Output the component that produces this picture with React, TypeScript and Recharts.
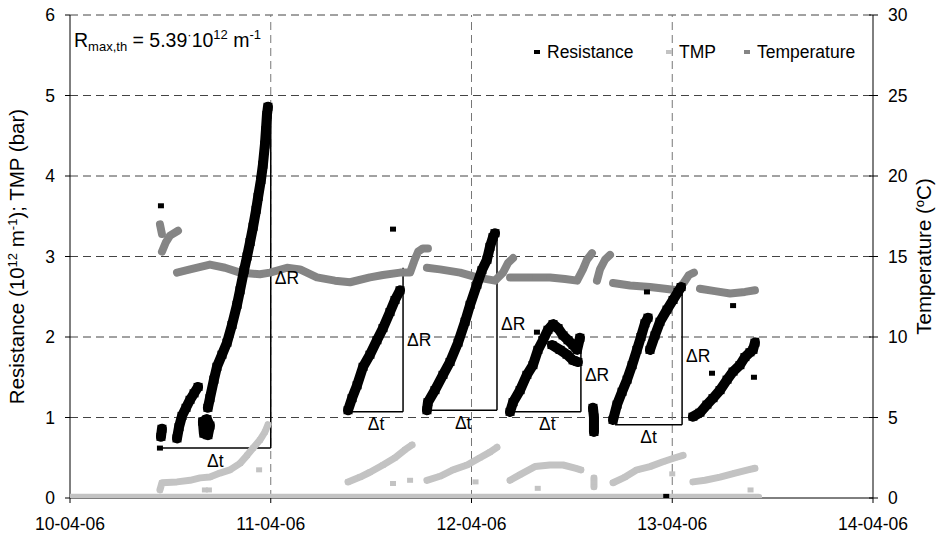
import { ComposedChart, ReferenceLine, Scatter, XAxis, YAxis } from 'recharts'

type Pt = [number, number]

// x = days since 10-04-06 00:00
const dayTicks = [0, 1, 2, 3, 4]
const dayLabels = ['10-04-06', '11-04-06', '12-04-06', '13-04-06', '14-04-06']
const resistanceTicks = [0, 1, 2, 3, 4, 5, 6]
const temperatureTicks = [0, 5, 10, 15, 20, 25, 30]

// Resistance (10^12 m^-1)
const resistanceRun1a: Pt[] = [[0.453, 0.76], [0.458, 0.86]]
const resistanceRun1b: Pt[] = [[0.533, 0.74], [0.543, 0.88], [0.558, 1.02], [0.578, 1.12], [0.598, 1.22], [0.618, 1.3], [0.638, 1.38]]
const resistanceRun1c: Pt[] = [[0.662, 0.95], [0.667, 0.8], [0.687, 0.78], [0.697, 0.9], [0.682, 0.98], [0.662, 0.95]]
const resistanceRun1d: Pt[] = [
  [0.687, 1.12], [0.697, 1.24], [0.717, 1.47], [0.732, 1.63], [0.757, 1.78], [0.782, 1.93], [0.807, 2.15],
  [0.832, 2.4], [0.847, 2.58], [0.867, 2.83], [0.882, 3.0], [0.897, 3.18], [0.912, 3.37], [0.927, 3.58],
  [0.937, 3.74], [0.951, 3.95], [0.961, 4.14], [0.971, 4.39], [0.976, 4.57], [0.981, 4.76], [0.986, 4.86],
]
const resistanceRun2: Pt[] = [
  [1.385, 1.09], [1.405, 1.24], [1.43, 1.4], [1.46, 1.63], [1.494, 1.78], [1.529, 1.96], [1.559, 2.11],
  [1.594, 2.31], [1.619, 2.46], [1.644, 2.58],
]
const resistanceRun3: Pt[] = [
  [1.778, 1.09], [1.783, 1.19], [1.818, 1.34], [1.858, 1.53], [1.893, 1.69], [1.933, 1.93], [1.968, 2.19],
  [1.993, 2.4], [2.027, 2.65], [2.052, 2.83], [2.077, 2.96], [2.092, 3.12], [2.107, 3.24], [2.117, 3.29],
]
const resistanceRun4: Pt[] = [
  [2.192, 1.07], [2.207, 1.19], [2.242, 1.34], [2.276, 1.53], [2.306, 1.65], [2.331, 1.84], [2.356, 1.96],
  [2.381, 2.09], [2.406, 2.16], [2.431, 2.11], [2.456, 2.02], [2.481, 1.96], [2.506, 1.9], [2.526, 1.84], [2.54, 1.99],
]
const resistanceRun4b: Pt[] = [[2.401, 1.9], [2.441, 1.84], [2.476, 1.78], [2.506, 1.71], [2.53, 1.69]]
const resistanceRun4c: Pt[] = [[2.605, 1.12], [2.61, 1.0], [2.61, 0.91], [2.61, 0.82]]
const resistanceRun5: Pt[] = [
  [2.705, 0.97], [2.725, 1.16], [2.75, 1.32], [2.775, 1.47], [2.8, 1.65], [2.824, 1.84], [2.844, 2.0],
  [2.864, 2.17], [2.879, 2.24],
]
const resistanceRun5b: Pt[] = [[2.889, 1.84], [2.914, 2.02], [2.939, 2.19], [2.974, 2.34], [3.004, 2.46], [3.029, 2.56], [3.044, 2.62]]
const resistanceRun6: Pt[] = [
  [3.103, 1.01], [3.138, 1.06], [3.173, 1.16], [3.203, 1.24], [3.238, 1.34], [3.273, 1.47], [3.303, 1.57],
  [3.337, 1.65], [3.362, 1.75], [3.387, 1.81], [3.402, 1.84], [3.412, 1.93],
]
const resistanceOutliers: Pt[] = [
  [0.448, 0.62], [0.453, 3.63], [1.609, 3.34], [2.326, 2.06], [2.874, 2.56], [3.303, 2.39], [3.198, 1.55],
  [3.407, 1.5], [3.417, 1.96], [2.97, 0.02],
]

// TMP (bar)
const tmpBaseline: Pt[] = [[0, 0.01], [3.43, 0.01]]
const tmpRun1: Pt[] = [
  [0.448, 0.1], [0.458, 0.19], [0.533, 0.2], [0.598, 0.22], [0.648, 0.25], [0.697, 0.26], [0.747, 0.31],
  [0.797, 0.35], [0.847, 0.43], [0.882, 0.53], [0.912, 0.62], [0.946, 0.72], [0.971, 0.82], [0.986, 0.91],
]
const tmpRun2: Pt[] = [[1.385, 0.2], [1.445, 0.26], [1.494, 0.32], [1.559, 0.41], [1.619, 0.5], [1.669, 0.6], [1.704, 0.66]]
const tmpRun3: Pt[] = [[1.778, 0.22], [1.843, 0.27], [1.908, 0.35], [1.978, 0.41], [2.042, 0.5], [2.092, 0.57], [2.127, 0.63]]
const tmpRun4: Pt[] = [[2.192, 0.22], [2.242, 0.29], [2.316, 0.39], [2.391, 0.41], [2.456, 0.41], [2.516, 0.37], [2.545, 0.35]]
const tmpRun4b: Pt[] = [[2.61, 0.25], [2.61, 0.14]]
const tmpRun5: Pt[] = [[2.705, 0.19], [2.765, 0.26], [2.824, 0.35], [2.889, 0.39], [2.954, 0.45], [3.014, 0.5], [3.054, 0.53]]
const tmpRun6: Pt[] = [[3.103, 0.2], [3.163, 0.22], [3.238, 0.26], [3.313, 0.31], [3.377, 0.35], [3.412, 0.37]]
const tmpOutliers: Pt[] = [[0.672, 0.1], [0.692, 0.1], [0.942, 0.35], [1.609, 0.18], [1.694, 0.22], [2.02, 0.2], [2.33, 0.12], [3.0, 0.3], [3.39, 0.1]]

// Temperature (ºC)
const temperatureRunA: Pt[] = [[0.448, 17.0], [0.458, 16.4]]
const temperatureRunA2: Pt[] = [[0.458, 15.3], [0.478, 15.9], [0.498, 16.3], [0.538, 16.6]]
const temperatureRunB: Pt[] = [
  [0.533, 14.0], [0.598, 14.2], [0.697, 14.5], [0.772, 14.3], [0.847, 14.0], [0.946, 13.9], [0.996, 14.0],
  [1.081, 14.3], [1.146, 14.2], [1.23, 13.7], [1.32, 13.5], [1.395, 13.4], [1.494, 13.7], [1.559, 13.85],
  [1.644, 14.0], [1.694, 14.0], [1.714, 14.7], [1.734, 15.3], [1.758, 15.5], [1.783, 15.5],
]
const temperatureRunC: Pt[] = [[1.778, 14.3], [1.843, 14.2], [1.943, 14.0], [2.027, 13.7], [2.117, 13.5], [2.157, 14.0], [2.182, 14.6], [2.207, 14.9]]
const temperatureRunD: Pt[] = [[2.192, 13.7], [2.291, 13.7], [2.391, 13.7], [2.466, 13.6], [2.526, 13.5], [2.555, 14.2], [2.575, 14.8], [2.6, 15.2]]
const temperatureRunD2: Pt[] = [[2.625, 13.5], [2.64, 14.2], [2.665, 14.8], [2.69, 15.1]]
const temperatureRunE: Pt[] = [[2.705, 13.35], [2.79, 13.2], [2.889, 13.1], [2.964, 13.0], [3.024, 12.9], [3.059, 13.4], [3.083, 13.85], [3.108, 14.0]]
const temperatureRunF: Pt[] = [[3.138, 13.0], [3.213, 12.85], [3.288, 12.7], [3.362, 12.8], [3.412, 12.9]]

// ΔR / Δt construction per filtration run
const boxStart = [0.448, 1.39, 1.79, 2.21, 2.715]
const boxEnd = [1.0, 1.659, 2.127, 2.545, 3.049]
const boxBase = [0.62, 1.07, 1.09, 1.07, 0.91]
const boxTop = [4.86, 2.86, 3.25, 2.0, 2.62]

const BLACK = '#000000'
const TMP_GRAY = '#c3c3c3'
const TEMP_GRAY = '#858585'
const FONT = '"Liberation Sans", Arial, Helvetica, sans-serif'
const TICK_FONT = 17.5
const TITLE_FONT = 20.5

const toPoints = (pts: Pt[]) => pts.map(([x, y]) => ({ x, y }))

const square = (color: string, w: number, h: number) => (p: any) => (
  <rect x={p.cx - w / 2} y={p.cy - h / 2} width={w} height={h} fill={color} />
)

interface SeriesDef {
  pts: Pt[]
  color: string
  axis: 'left' | 'right'
  band: number
  joined: boolean
  mark: number
}

const series: SeriesDef[] = [
  ...[temperatureRunA, temperatureRunA2, temperatureRunB, temperatureRunC, temperatureRunD, temperatureRunD2, temperatureRunE, temperatureRunF].map(
    (pts) => ({ pts, color: TEMP_GRAY, axis: 'right' as const, band: 8, joined: true, mark: 6 }),
  ),
  ...[tmpBaseline, tmpRun1, tmpRun2, tmpRun3, tmpRun4, tmpRun4b, tmpRun5, tmpRun6].map((pts) => ({
    pts,
    color: TMP_GRAY,
    axis: 'left' as const,
    band: 7,
    joined: true,
    mark: 6,
  })),
  { pts: tmpOutliers, color: TMP_GRAY, axis: 'left', band: 6, joined: false, mark: 6 },
  ...[
    resistanceRun1a, resistanceRun1b, resistanceRun1c, resistanceRun1d, resistanceRun2, resistanceRun3,
    resistanceRun4, resistanceRun4b, resistanceRun4c, resistanceRun5, resistanceRun5b, resistanceRun6,
  ].map((pts) => ({ pts, color: BLACK, axis: 'left' as const, band: 10, joined: true, mark: 9 })),
  { pts: resistanceOutliers, color: BLACK, axis: 'left', band: 6, joined: false, mark: 6 },
]

function RightTick({ x, y, payload }: any) {
  const axisX = x - 15
  return (
    <g>
      <line x1={axisX - 4} x2={axisX + 5} y1={y} y2={y} stroke={BLACK} />
      <text x={x} y={y} dy="0.36em" fontSize={TICK_FONT} fontFamily={FONT} fill={BLACK}>
        {payload.value}
      </text>
    </g>
  )
}

function LeftTitle({ viewBox }: any) {
  const cx = 24
  const cy = viewBox.y + viewBox.height / 2
  return (
    <text x={cx} y={cy} transform={`rotate(-90 ${cx} ${cy})`} textAnchor="middle" fontSize={TITLE_FONT} fontFamily={FONT} fill={BLACK}>
      Resistance (10
      <tspan dy={-7} fontSize={13}>12</tspan>
      <tspan dy={7}> m</tspan>
      <tspan dy={-7} fontSize={13}>-1</tspan>
      <tspan dy={7}>); TMP (bar)</tspan>
    </text>
  )
}

function RightTitle({ viewBox }: any) {
  const cx = 931
  const cy = viewBox.y + viewBox.height / 2
  return (
    <text x={cx} y={cy} transform={`rotate(-90 ${cx} ${cy})`} textAnchor="middle" fontSize={TITLE_FONT} fontFamily={FONT} fill={BLACK}>
      Temperature (
      <tspan dy={-7} fontSize={13}>o</tspan>
      <tspan dy={7}>C)</tspan>
    </text>
  )
}

const legendItems = [
  { label: 'Resistance', color: BLACK, left: 534 },
  { label: 'TMP', color: TMP_GRAY, left: 666 },
  { label: 'Temperature', color: TEMP_GRAY, left: 744 },
]

export default function App() {
  const tickStyle = { fontSize: TICK_FONT, fontFamily: FONT, fill: BLACK }
  return (
    <div style={{ position: 'absolute', left: 0, top: 0, width: 938, height: 538, background: '#fff', fontFamily: FONT }}>
      <ComposedChart width={938} height={538} margin={{ top: 15, right: 0, bottom: 0, left: 0 }}>
        <XAxis
          type="number"
          dataKey="x"
          domain={[0, 4]}
          ticks={dayTicks}
          tickFormatter={(v: number) => dayLabels[v]}
          allowDataOverflow
          height={40}
          stroke={BLACK}
          tickSize={5}
          tickMargin={15}
          tick={tickStyle}
        />
        <YAxis
          yAxisId="left"
          dataKey="y"
          domain={[0, 6]}
          ticks={resistanceTicks}
          allowDataOverflow
          width={70}
          stroke={BLACK}
          tickSize={5}
          tickMargin={10}
          tick={tickStyle}
          label={{ content: LeftTitle }}
        />
        <YAxis
          yAxisId="right"
          orientation="right"
          dataKey="y"
          domain={[0, 30]}
          ticks={temperatureTicks}
          allowDataOverflow
          width={65}
          stroke={BLACK}
          tickSize={5}
          tickMargin={10}
          tickLine={false}
          tick={RightTick}
          label={{ content: RightTitle }}
        />
        {resistanceTicks.slice(1).map((v) => (
          <ReferenceLine key={`h${v}`} yAxisId="left" y={v} stroke="#444" strokeDasharray="8 5" />
        ))}
        {dayTicks.slice(1, -1).map((v) => (
          <ReferenceLine key={`v${v}`} yAxisId="left" x={v} stroke="#777" strokeDasharray="8 5" />
        ))}
        {series.map((s, i) => (
          <Scatter
            key={i}
            data={toPoints(s.pts)}
            dataKey="y"
            yAxisId={s.axis}
            fill={s.color}
            line={s.joined ? { stroke: s.color, strokeWidth: s.band, strokeLinecap: 'round', strokeLinejoin: 'round' } : false}
            shape={square(s.color, s.mark, s.mark - 1)}
            isAnimationActive={false}
          />
        ))}
        {boxStart.map((start, i) => (
          <ReferenceLine
            key={`dt${i}`}
            yAxisId="left"
            segment={[{ x: start, y: boxBase[i] }, { x: boxEnd[i], y: boxBase[i] }]}
            stroke={BLACK}
            strokeWidth={1.5}
            label={{ value: 'Δt', position: 'bottom', offset: 6, fontSize: TICK_FONT, fontFamily: FONT, fill: BLACK }}
          />
        ))}
        {boxStart.map((_, i) => (
          <ReferenceLine
            key={`dr${i}`}
            yAxisId="left"
            segment={[{ x: boxEnd[i], y: boxBase[i] }, { x: boxEnd[i], y: boxTop[i] }]}
            stroke={BLACK}
            strokeWidth={1.5}
            label={{ value: 'ΔR', position: 'right', offset: 4, fontSize: TICK_FONT, fontFamily: FONT, fill: BLACK }}
          />
        ))}
      </ComposedChart>
      <div style={{ position: 'absolute', left: 74, top: 24, fontSize: 19.5, lineHeight: '22px', color: BLACK }}>
        R<sub style={{ fontSize: 13 }}>max,th</sub> = 5.39<sup style={{ fontSize: 13 }}>·</sup>10<sup style={{ fontSize: 13 }}>12</sup> m<sup style={{ fontSize: 13 }}>-1</sup>
      </div>
      {legendItems.map((item) => (
        <div key={item.label} style={{ position: 'absolute', left: item.left, top: 42, height: 20, display: 'flex', alignItems: 'center', fontSize: TICK_FONT }}>
          <span style={{ display: 'inline-block', width: 6, height: 4, background: item.color, marginRight: 7 }} />
          <span>{item.label}</span>
        </div>
      ))}
    </div>
  )
}
